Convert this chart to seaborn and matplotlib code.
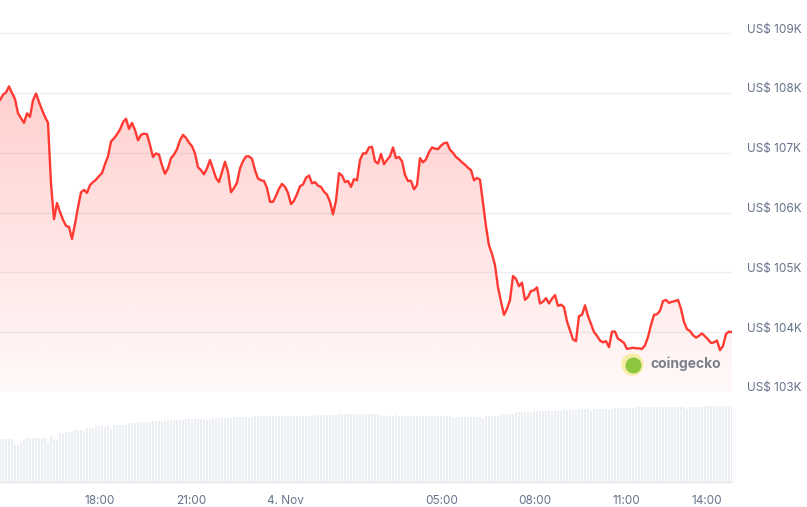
import numpy as np
import matplotlib
matplotlib.use("Agg")
import matplotlib.pyplot as plt
from matplotlib.patches import Polygon
from matplotlib.colors import to_rgb
from matplotlib.transforms import ScaledTranslation
import seaborn as sns

# BTC price (USD), one reading every ~6 minutes over the last 24h
price = [
    107880, 107970, 108010, 108110, 108000, 107900, 107660, 107580, 107500, 107660,
    107600, 107880, 107990, 107850, 107720, 107600, 107500, 106480, 105890, 106160,
    106010, 105880, 105780, 105760, 105560, 105810, 106090, 106340, 106380, 106330,
    106460, 106510, 106550, 106610, 106660, 106810, 106940, 107190, 107240, 107310,
    107390, 107510, 107570, 107400, 107500, 107380, 107210, 107300, 107320, 107310,
    107130, 106930, 106990, 106970, 106790, 106650, 106740, 106910, 106970, 107060,
    107210, 107300, 107250, 107170, 107110, 106990, 106760, 106710, 106640, 106740,
    106880, 106730, 106580, 106510, 106680, 106850, 106680, 106340, 106410, 106500,
    106740, 106860, 106940, 106940, 106900, 106710, 106570, 106540, 106530, 106410,
    106180, 106180, 106280, 106400, 106480, 106430, 106330, 106140, 106200, 106310,
    106440, 106470, 106580, 106620, 106490, 106510, 106450, 106430, 106350, 106300,
    106180, 105970, 106200, 106660, 106620, 106510, 106530, 106430, 106560, 106540,
    106880, 106990, 106990, 107090, 107100, 106860, 106820, 106980, 106810, 106880,
    106940, 107090, 106910, 106930, 106860, 106630, 106530, 106530, 106390, 106460,
    106910, 106840, 106890, 107010, 107090, 107070, 107060, 107120, 107160, 107170,
    107050, 107000, 106930, 106890, 106840, 106800, 106750, 106710, 106540, 106580,
    106550, 106160, 105770, 105450, 105310, 105120, 104750, 104510, 104290, 104390,
    104540, 104940, 104890, 104770, 104830, 104540, 104590, 104690, 104700, 104750,
    104480, 104510, 104570, 104480, 104560, 104620, 104440, 104460, 104420, 104180,
    104030, 103880, 103850, 104270, 104290, 104450, 104270, 104140, 104000, 103940,
    103860, 103830, 103850, 103750, 104010, 104010, 103890, 103860, 103820, 103720,
    103730, 103740, 103730, 103730, 103720, 103780, 103920, 104120, 104290, 104300,
    104360, 104520, 104540, 104490, 104510, 104520, 104540, 104390, 104170, 104050,
    104020, 103950, 103910, 103940, 103980, 103930, 103880, 103820, 103830, 103860,
    103700, 103770, 103970, 104010, 104000,
]

# rolling 24h volume (bn USD) at the same readings
volume_bn = [
    43, 43, 43, 43, 43, 37, 37, 39, 42, 44,
    44, 44, 44, 44, 44, 44, 40, 46, 43, 42,
    49, 49, 50, 50, 50, 52, 52, 52, 51, 54,
    54, 54, 56, 56, 56, 56, 56, 53, 57, 57,
    57, 57, 57, 59, 59, 59, 60, 60, 60, 60,
    60, 61, 61, 61, 61, 61, 62, 62, 62, 62,
    62, 62, 63, 63, 63, 63, 63, 63, 63, 62,
    63, 64, 64, 64, 64, 64, 64, 64, 65, 65,
    65, 65, 65, 65, 65, 66, 66, 66, 66, 66,
    66, 66, 66, 66, 66, 66, 66, 66, 66, 66,
    66, 66, 66, 66, 66, 67, 67, 67, 67, 67,
    67, 67, 67, 68, 68, 68, 68, 68, 68, 68,
    68, 68, 68, 68, 68, 68, 68, 67, 66, 67,
    66, 66, 67, 66, 66, 65, 66, 66, 66, 66,
    66, 66, 66, 66, 66, 66, 66, 66, 66, 66,
    66, 65, 65, 65, 65, 65, 65, 65, 65, 65,
    65, 63, 66, 66, 66, 66, 66, 68, 68, 68,
    68, 68, 70, 70, 70, 70, 70, 70, 71, 71,
    71, 71, 71, 71, 71, 71, 71, 71, 72, 72,
    72, 72, 72, 73, 73, 73, 73, 71, 73, 73,
    73, 73, 73, 73, 73, 74, 74, 74, 74, 74,
    74, 74, 75, 75, 75, 75, 75, 75, 75, 75,
    75, 75, 75, 75, 75, 75, 75, 75, 75, 73,
    75, 75, 75, 75, 75, 76, 76, 76, 76, 76,
    76, 76, 76, 76, 76,
]

tick_hours = [3.28, 6.26, 9.37, 14.48, 17.52, 20.55, 23.17]
tick_labels = ["18:00", "21:00", "4. Nov", "05:00", "08:00", "11:00", "14:00"]
price_ticks = [103000, 104000, 105000, 106000, 107000, 108000, 109000]
price_labels = ["US$ 103K", "US$ 104K", "US$ 105K", "US$ 106K", "US$ 107K", "US$ 108K", "US$ 109K"]

red = "#ff3a33"
grid_col = "#eceef1"
text_col = "#66728a"

hours = np.linspace(0, 24, len(price))

sns.set_style("white")
plt.rcParams["font.family"] = ["Inter", "DejaVu Sans"]

fig = plt.figure(figsize=(8.07, 5.07), dpi=100)
ax = fig.add_axes([0, 115 / 507, 732 / 807, 392 / 507])
vax = fig.add_axes([0, 25 / 507, 732 / 807, 90 / 507])

ylo, yhi = 103000, 109555

# gradient fill under the price line
verts = [(hours[0], ylo)] + list(zip(hours, price)) + [(hours[-1], ylo)]
poly = Polygon(verts, closed=True, facecolor="none", edgecolor="none")
ax.add_patch(poly)
rgba = np.zeros((256, 1, 4))
rgba[..., :3] = to_rgb(red)
rgba[:, 0, 3] = np.linspace(0.30, 0.03, 256)
im = ax.imshow(rgba, extent=[0, 24, ylo, yhi], origin="upper", aspect="auto", zorder=1)
im.set_clip_path(poly)

sns.lineplot(x=hours, y=price, ax=ax, color=red, linewidth=1.7, zorder=3)

ax.set_xlim(0, 24)
ax.set_ylim(ylo, yhi)
ax.set_yticks(price_ticks)
ax.set_yticklabels(price_labels)
ax.yaxis.tick_right()
ax.grid(axis="y", color=grid_col, linewidth=1)
ax.grid(axis="x", visible=False)
ax.set_axisbelow(True)
ax.tick_params(axis="y", length=0, pad=10.8, labelcolor=text_col, labelsize=8.5)
ax.tick_params(axis="x", length=0, labelbottom=False)
for lab in ax.get_yticklabels():
    lab.set_transform(lab.get_transform() + ScaledTranslation(0, 0.05, fig.dpi_scale_trans))
for s in ax.spines.values():
    s.set_visible(False)
ax.set_xlabel("")
ax.set_ylabel("")

# watermark
ax.scatter([0.8634], [0.0714], s=230, color="#f6eea8", transform=ax.transAxes, zorder=4, clip_on=False)
ax.scatter([0.8654], [0.0700], s=110, color="#8dc63f", transform=ax.transAxes, zorder=5, clip_on=False)
ax.text(0.889, 0.0714, "coingecko", transform=ax.transAxes, ha="left", va="center",
        fontsize=10, fontweight="bold", color="#7b818c", zorder=5)

# volume bars
vax.bar(hours, volume_bn, width=(hours[1] - hours[0]) * 0.78, color="#ebeef3", linewidth=0)
vax.set_xlim(0, 24)
vax.set_ylim(0, 90)
vax.set_yticks([])
vax.set_xticks(tick_hours)
vax.set_xticklabels(tick_labels)
vax.tick_params(axis="x", length=7, width=1, color="#e3e6eb", pad=2, labelcolor=text_col, labelsize=8.5)
for name, s in vax.spines.items():
    s.set_visible(name == "bottom")
vax.spines["bottom"].set_color("#e3e6eb")
vax.spines["bottom"].set_linewidth(1)

fig.savefig("out.png", dpi=100)
